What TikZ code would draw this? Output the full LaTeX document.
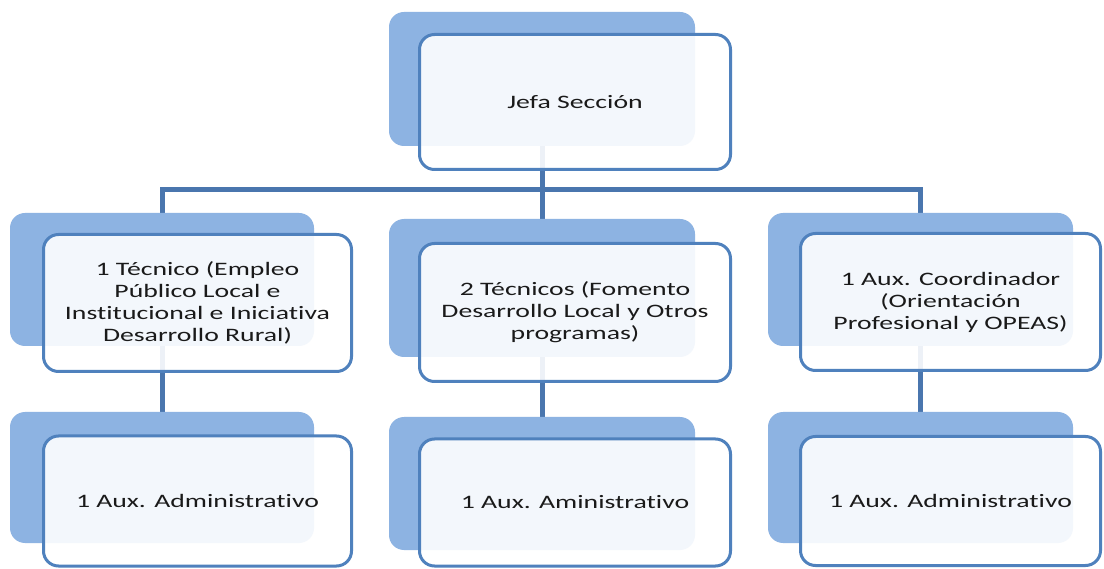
\documentclass[tikz,border=0pt]{standalone}
\usepackage{fontspec}
\setmainfont{Carlito}[FakeStretch=1.46, Ligatures=NoCommon]
\usetikzlibrary{backgrounds}
\definecolor{backblue}{HTML}{8DB3E2}
\definecolor{edgeblue}{HTML}{4F81BD}
\definecolor{linkblue}{HTML}{4A76AE}
\definecolor{txt}{HTML}{1A1A1A}
\tikzset{
  backbox/.style={rectangle, rounded corners=15pt, fill=backblue, draw=none, inner sep=0pt},
  frontbox/.style={rectangle, rounded corners=15pt, draw=edgeblue, line width=3pt, fill=white, fill opacity=0.9, text opacity=1, text=txt, align=center, inner sep=0pt, font=\fontsize{19}{22}\selectfont},
  conn/.style={draw=linkblue, line width=5pt}
}
\begin{document}
\begin{tikzpicture}[x=1pt,y=-1pt]
\useasboundingbox (0,0) rectangle (1104,569);
% back boxes
\node[backbox, minimum width=306pt, minimum height=134pt] (topB) at (542,79) {};
\node[backbox, minimum width=304pt, minimum height=133pt] (lB) at (162,279.5) {};
\node[backbox, minimum width=306pt, minimum height=138pt] (mB) at (542,288) {};
\node[backbox, minimum width=305pt, minimum height=133pt] (rB) at (920.5,279.5) {};
\node[backbox, minimum width=304pt, minimum height=131pt] (lbB) at (162,477.5) {};
\node[backbox, minimum width=306pt, minimum height=133pt] (mbB) at (542,483.5) {};
\node[backbox, minimum width=305pt, minimum height=131pt] (rbB) at (920.5,477.5) {};
\coordinate (bus) at (542,190);
% front boxes
\node[frontbox, minimum width=311pt, minimum height=135pt] (topF) at (575,102) {Jefa Sección};
\node[frontbox, minimum width=308pt, minimum height=137pt] (lF) at (197.5,303) {1 Técnico (Empleo\\Público Local e\\Institucional e Iniciativa\\Desarrollo Rural)};
\node[frontbox, minimum width=311pt, minimum height=138pt] (mF) at (575,312.5) {2 Técnicos (Fomento\\Desarrollo Local y Otros\\programas)};
\node[frontbox, minimum width=300pt, minimum height=137pt] (rF) at (950.5,302) {1 Aux. Coordinador\\(Orientación\\Profesional y OPEAS)};
\node[frontbox, minimum width=308pt, minimum height=130pt] (lbF) at (197.5,501) {1 Aux. Administrativo};
\node[frontbox, minimum width=311pt, minimum height=127pt] (mbF) at (575,502.5) {1 Aux. Aministrativo};
\node[frontbox, minimum width=300pt, minimum height=129pt] (rbF) at (950.5,501) {1 Aux. Administrativo};
% connectors beneath all boxes
\begin{pgfonlayer}{background}
\fill[white] (0,0) rectangle (1104,569);
\draw[conn] (topB.center) -- (mB.center);
\draw[conn] (lB.center) |- (bus) -| (rB.center);
\draw[conn] (lB.center) -- (lbB.center);
\draw[conn] (mB.center) -- (mbB.center);
\draw[conn] (rB.center) -- (rbB.center);
\end{pgfonlayer}
\end{tikzpicture}
\end{document}
